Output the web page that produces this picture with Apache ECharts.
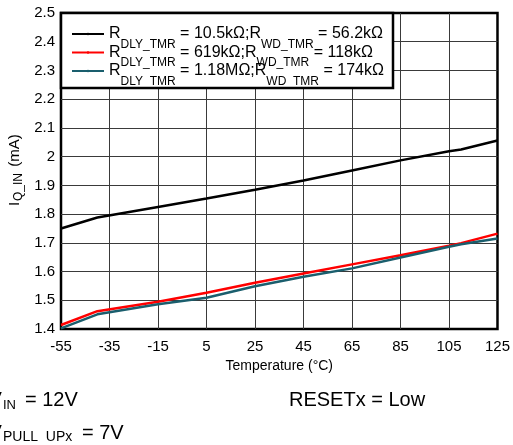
<!DOCTYPE html>
<html>
<head>
<meta charset="utf-8">
<script src="https://cdn.jsdelivr.net/npm/echarts@6/dist/echarts.min.js"></script>
<style>
  html, body { margin: 0; padding: 0; background: #fff; }
  #chart { width: 513px; height: 445px; }
</style>
</head>
<body>
<div id="chart"></div>
<script>
// --- données --- //
const temps = [-55, -40, -15, 5, 25, 45, 65, 85, 105, 110, 125];
const iqBlack = [1.75, 1.788, 1.825, 1.854, 1.885, 1.917, 1.952, 1.987, 2.019, 2.025, 2.056];
const iqRed   = [1.414, 1.462, 1.495, 1.526, 1.561, 1.593, 1.625, 1.657, 1.690, 1.699, 1.732];
const iqTeal  = [1.402, 1.451, 1.486, 1.509, 1.549, 1.582, 1.611, 1.649, 1.686, 1.695, 1.715];

const dlyValues = ['10.5kΩ', '619kΩ', '1.18MΩ'];
const wdValues = ['56.2kΩ', '118kΩ', '174kΩ'];
const seriesColors = ['#000000', '#ff0000', '#1a5e6d'];

const xMin = -55, xMax = 125, xStep = 20;
const yMin = 1.4, yMax = 2.5, yStep = 0.1;

// l'axe x démarre à 0 (décalage de 55) pour que les graduations tombent sur -55, -35, ...
const xOffset = -xMin;

const font = 'Liberation Sans, Arial, sans-serif';
const seriesNames = dlyValues.map((d, i) => 'R_DLY_TMR = ' + d + ';R_WD_TMR = ' + wdValues[i]);
const allValues = [iqBlack, iqRed, iqTeal];

const chart = echarts.init(document.getElementById('chart'));

const option = {
  animation: false,
  grid: {
    left: 61, right: 15, top: 13, bottom: 116,
    show: true, borderColor: '#000', borderWidth: 2.5
  },
  xAxis: {
    type: 'value',
    min: 0, max: xMax - xMin, interval: xStep,
    axisLine: { show: false },
    axisTick: { show: false },
    axisLabel: {
      margin: 10, fontSize: 15, fontFamily: font, color: '#000',
      formatter: v => String(v - xOffset)
    },
    splitLine: { show: true, showMinLine: false, showMaxLine: false, lineStyle: { color: '#3a3a3a', width: 1 } },
    name: 'Temperature (°C)',
    nameLocation: 'middle',
    nameGap: 30,
    nameTextStyle: { fontSize: 14, fontFamily: font, color: '#000' }
  },
  yAxis: {
    type: 'value',
    min: yMin, max: yMax, interval: yStep,
    axisLine: { show: false },
    axisTick: { show: false },
    axisLabel: {
      margin: 6, fontSize: 15, fontFamily: font, color: '#000',
      formatter: v => String(parseFloat(v.toFixed(1)))
    },
    splitLine: { show: true, showMinLine: false, showMaxLine: false, lineStyle: { color: '#3a3a3a', width: 1 } }
  },
  legend: {
    data: seriesNames,
    left: 71, top: 26, orient: 'vertical', padding: 0,
    itemWidth: 32, itemHeight: 3, itemGap: -6,
    selectedMode: false, z: 20,
    formatter: name => {
      const i = seriesNames.indexOf(name);
      return '{m|R}{s|DLY_TMR}{m| = ' + dlyValues[i] + ';R}{s|WD_TMR}{m| = ' + wdValues[i] + '}';
    },
    textStyle: {
      rich: {
        m: { fontSize: 16, fontFamily: font, color: '#000' },
        s: { fontSize: 12, fontFamily: font, color: '#000', padding: [21, 0, 0, 0] }
      }
    }
  },
  graphic: [
    { type: 'rect', z: 10, shape: { x: 61, y: 13, width: 332, height: 75 },
      style: { fill: '#fff', stroke: '#000', lineWidth: 2.5 } },
    // titre de l'axe y (I_Q_IN)
    { type: 'group', x: 15, y: 206, rotation: Math.PI / 2, children: [
      { type: 'text', x: 0, y: 0, style: { text: 'I', font: '15px ' + font, fill: '#000', verticalAlign: 'middle' } },
      { type: 'text', x: 5, y: 4, style: { text: 'Q_IN', font: '12px ' + font, fill: '#000', verticalAlign: 'middle' } },
      { type: 'text', x: 35, y: 0, style: { text: ' (mA)', font: '15px ' + font, fill: '#000', verticalAlign: 'middle' } }
    ]},
    // conditions de test
    { type: 'text', x: -11.5, y: 400, style: { text: 'V', font: '20px ' + font, fill: '#000', verticalAlign: 'middle' } },
    { type: 'text', x: 3, y: 405, style: { text: 'IN', font: '13px ' + font, fill: '#000', verticalAlign: 'middle' } },
    { type: 'text', x: 25, y: 400, style: { text: '= 12V', font: '20px ' + font, fill: '#000', verticalAlign: 'middle' } },
    { type: 'text', x: -11.5, y: 433, style: { text: 'V', font: '20px ' + font, fill: '#000', verticalAlign: 'middle' } },
    { type: 'text', x: 3, y: 437, style: { text: 'PULL  UPx', font: '14px ' + font, fill: '#000', verticalAlign: 'middle' } },
    { type: 'text', x: 82, y: 433, style: { text: '= 7V', font: '20px ' + font, fill: '#000', verticalAlign: 'middle' } },
    { type: 'text', x: 289, y: 400, style: { text: 'RESETx = Low', font: '20px ' + font, fill: '#000', verticalAlign: 'middle' } }
  ],
  series: seriesNames.map((name, i) => ({
    name: name,
    type: 'line',
    symbol: 'none',
    z: 5,
    color: seriesColors[i],
    lineStyle: { width: 2.5, color: seriesColors[i] },
    data: temps.map((t, j) => [t + xOffset, allValues[i][j]])
  }))
};

chart.setOption(option);
</script>
</body>
</html>
